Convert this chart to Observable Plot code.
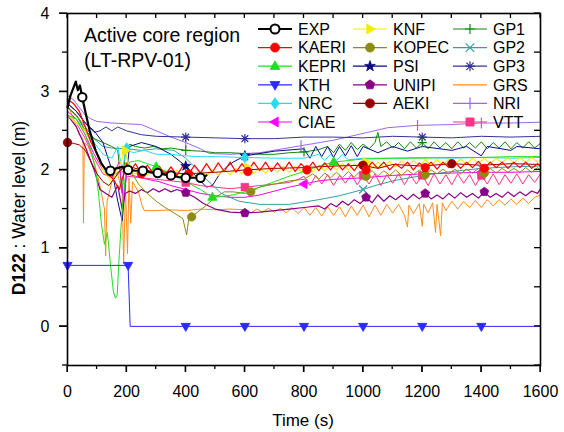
<!DOCTYPE html>
<html><head><meta charset="utf-8">
<script src="https://cdn.jsdelivr.net/npm/d3@7"></script>
<script src="https://cdn.jsdelivr.net/npm/@observablehq/plot@0.6"></script>
<style>
body{margin:0;background:#fff;}
#chart{width:564px;height:432px;}
</style></head><body><div id="chart"></div>
<script>
// ---------------- data (time s, water level m) ----------------
const EXP = [[0,2.8],[10,2.95],[20,3.05],[28,3.13],[35,3.02],[42,3.08],[50,2.93],[60,2.75],[75,2.5],[95,2.25],[115,2.08],[130,2.0],[145,1.99],[165,2.02],[185,2.04],[205,2.0],[230,1.99],[255,1.99],[280,1.97],[305,1.96],[330,1.94],[350,1.93],[375,1.91],[400,1.9],[425,1.9],[450,1.9],[470,1.93]];
const EXP_marks = [50,145,205,255,305,350,400,450];

const KAERI = [[0,2.9],[20,2.85],[40,2.75],[60,2.55],[80,2.35],[100,2.2],[120,2.05],[140,1.95],[160,1.85],[175,1.75],[190,1.95],[200,2.08],[210,1.98],[230,2.08],[250,1.95],[270,2.06],[290,1.96],[310,2.05],[330,1.94],[350,2.04],[370,1.93],[390,2.05],[410,1.95],[430,2.06],[450,1.96],[470,2.08],[490,1.97],[510,2.09],[530,1.98],[550,2.1],[570,1.97],[590,2.08],[610,1.98],[630,2.1],[650,1.99],[670,2.1],[690,1.98],[710,2.09],[730,1.99],[750,2.1],[770,1.98],[790,2.08],[810,2.0],[830,2.1],[850,1.99],[870,2.09],[890,2.0],[910,2.1],[930,2.0],[950,2.08],[970,1.99],[990,2.1],[1010,2.0],[1030,2.1],[1050,2.02],[1070,2.1],[1090,2.0],[1110,2.08],[1130,2.02],[1150,2.1],[1170,2.0],[1190,2.09],[1210,2.03],[1230,2.1],[1250,2.01],[1270,2.1],[1290,2.03],[1310,2.1],[1330,2.02],[1350,2.1],[1370,2.03],[1390,2.11],[1410,2.02],[1430,2.1],[1450,2.03],[1470,2.1],[1490,2.02],[1510,2.1],[1530,2.03],[1550,2.1],[1570,2.02],[1590,2.08],[1600,2.05]];
const KAERI_marks = [250,410,610,810,1010,1210,1410];

const KEPRI = [[0,2.7],[30,2.65],[60,2.45],[80,2.25],[95,2.0],[105,1.7],[115,1.3],[125,1.05],[135,1.2],[145,0.8],[155,0.45],[162,0.36],[168,0.4],[175,0.9],[185,1.5],[195,1.9],[210,2.1],[240,2.12],[270,2.08],[300,2.04],[350,1.95],[400,1.85],[450,1.75],[490,1.65],[520,1.66],[560,1.68],[600,1.72],[650,1.78],[700,1.85],[750,1.92],[800,1.98],[850,2.05],[900,2.1],[950,2.12],[1000,2.14],[1100,2.15],[1200,2.15],[1300,2.16],[1400,2.16],[1500,2.17],[1600,2.17]];
const KEPRI_marks = [300,490,900];

const KTH = [[0,0.78],[205,0.78],[212,0],[400,0],[600,0],[800,0],[1000,0],[1200,0],[1400,0],[1600,0]];
const KTH_marks = [0,205,400,600,800,1000,1200,1400];

const NRC = [[0,2.7],[30,2.65],[60,2.5],[90,2.35],[120,2.2],[150,2.15],[170,2.3],[185,2.0],[200,2.28],[220,2.22],[260,2.25],[300,2.2],[350,2.2],[400,2.18],[450,2.17],[500,2.17],[600,2.16],[700,2.15],[800,2.15],[850,2.2],[870,2.12],[890,2.2],[910,2.12],[930,2.2],[950,2.13],[1000,2.15],[1100,2.15],[1200,2.16],[1300,2.15],[1400,2.16],[1500,2.15],[1600,2.16]];
const NRC_marks = [200,600];

const CIAE = [[0,2.75],[30,2.65],[60,2.45],[90,2.2],[120,2.0],[150,1.9],[175,2.1],[190,1.6],[200,1.95],[230,1.92],[270,1.88],[310,1.85],[350,1.8],[400,1.75],[450,1.7],[500,1.67],[550,1.65],[600,1.65],[650,1.68],[700,1.73],[750,1.78],[800,1.82],[850,1.86],[900,1.88],[1000,1.9],[1100,1.93],[1200,1.95],[1300,1.96],[1400,1.97],[1500,1.97],[1600,1.98]];
const CIAE_marks = [800,1400];

const KNF = [[0,2.7],[30,2.6],[60,2.5],[90,2.3],[120,2.0],[150,1.85],[180,2.1],[195,2.25],[210,2.0],[230,1.95],[250,2.03],[270,1.93],[290,2.02],[310,1.92],[330,2.0],[350,1.9],[370,2.0],[390,1.9],[410,1.98],[430,1.9],[450,1.98],[470,1.92],[490,2.0],[510,1.93],[530,2.01],[550,1.94],[570,2.02],[590,1.95],[610,2.03],[630,1.95],[650,2.03],[670,1.96],[690,2.04],[710,1.97],[730,2.05],[750,1.97],[770,2.05],[790,1.98],[810,2.06],[830,1.98],[850,2.06],[870,1.99],[890,2.07],[910,2.0],[930,2.08],[950,2.0],[970,2.08],[990,2.02],[1010,2.1],[1030,2.02],[1050,2.1],[1070,2.03],[1090,2.11],[1110,2.04],[1130,2.12],[1150,2.05],[1170,2.12],[1190,2.05],[1210,2.13],[1230,2.06],[1250,2.13],[1270,2.06],[1290,2.14],[1310,2.07],[1330,2.14],[1350,2.07],[1370,2.15],[1390,2.08],[1410,2.15],[1430,2.08],[1450,2.15],[1470,2.09],[1490,2.16],[1510,2.09],[1530,2.16],[1550,2.1],[1570,2.16],[1590,2.1],[1600,2.13]];
const KNF_marks = [195,610,1010];

const KOPEC = [[0,2.8],[40,2.65],[80,2.35],[120,2.05],[150,1.9],[180,2.0],[200,2.1],[220,1.95],[240,1.82],[270,1.7],[300,1.6],[330,1.52],[360,1.45],[390,1.38],[403,1.17],[410,1.37],[420,1.4],[470,1.55],[500,1.65],[530,1.72],[560,1.72],[600,1.7],[620,1.72],[650,1.78],[700,1.82],[750,1.86],[800,1.88],[830,1.95],[850,1.88],[870,1.96],[890,1.9],[910,1.97],[930,1.9],[950,1.98],[970,1.91],[990,1.98],[1010,1.92],[1030,1.99],[1050,1.92],[1070,1.99],[1090,1.93],[1110,2.0],[1130,1.93],[1150,2.0],[1170,1.94],[1190,2.0],[1210,1.94],[1230,2.0],[1250,1.95],[1270,2.01],[1290,1.95],[1310,2.01],[1330,1.95],[1350,2.01],[1370,1.96],[1390,2.02],[1410,1.96],[1430,2.02],[1450,1.96],[1470,2.02],[1490,1.97],[1510,2.02],[1530,1.97],[1550,2.03],[1570,1.97],[1590,2.03],[1600,2.0]];
const KOPEC_marks = [420,620,1010,1210,1410];

const PSI = [[0,2.85],[30,2.75],[60,2.6],[90,2.5],[120,2.35],[150,2.0],[170,1.6],[185,1.35],[195,1.8],[210,2.3],[250,2.35],[300,2.3],[350,2.2],[400,2.05],[440,1.9],[470,1.78],[490,1.8],[520,1.98],[560,2.1],[600,2.18],[700,2.24],[800,2.27],[820,2.15],[840,2.3],[860,2.17],[880,2.3],[900,2.16],[920,2.3],[940,2.18],[960,2.31],[980,2.17],[1000,2.3],[1050,2.22],[1100,2.3],[1150,2.24],[1200,2.3],[1300,2.25],[1350,2.3],[1400,2.18],[1420,2.3],[1500,2.25],[1520,2.3],[1600,2.27]];
const PSI_marks = [400,600];

const UNIPI = [[0,2.7],[30,2.55],[60,2.3],[90,2.0],[110,1.75],[130,1.7],[150,1.65],[170,1.8],[185,1.5],[195,1.7],[210,1.73],[230,1.7],[250,1.75],[270,1.71],[290,1.76],[310,1.72],[330,1.76],[350,1.72],[370,1.75],[400,1.71],[430,1.65],[460,1.57],[500,1.5],[550,1.46],[600,1.45],[650,1.46],[700,1.48],[750,1.5],[800,1.52],[850,1.54],[870,1.5],[890,1.57],[910,1.53],[930,1.6],[950,1.55],[970,1.62],[990,1.57],[1010,1.65],[1030,1.58],[1050,1.68],[1070,1.6],[1090,1.67],[1110,1.62],[1130,1.68],[1150,1.62],[1170,1.69],[1190,1.63],[1210,1.7],[1230,1.63],[1250,1.68],[1270,1.63],[1290,1.7],[1310,1.64],[1330,1.71],[1350,1.65],[1370,1.7],[1390,1.64],[1410,1.72],[1430,1.65],[1450,1.7],[1470,1.65],[1490,1.72],[1510,1.66],[1530,1.72],[1550,1.67],[1570,1.73],[1590,1.7],[1600,1.76]];
const UNIPI_marks = [400,600,1010,1210,1410];

const AEKI = [[0,2.35],[20,2.34],[40,2.32],[60,2.25],[80,2.1],[100,1.95],[120,1.85],[140,1.8],[160,1.9],[180,2.0],[200,2.05],[250,2.0],[300,1.98],[400,1.95],[500,1.97],[600,2.0],[700,2.02],[800,2.03],[900,2.05],[1000,2.06],[1050,2.02],[1100,2.07],[1200,2.05],[1300,2.08],[1400,2.06],[1500,2.08],[1600,2.07]];
const AEKI_marks = [0,1000,1300];

const GP1 = [[0,2.8],[30,2.7],[60,2.5],[90,2.4],[120,2.35],[150,2.3],[170,2.25],[185,1.7],[195,2.2],[210,2.33],[230,2.3],[260,2.28],[290,2.3],[320,2.27],[350,2.28],[400,2.25],[450,2.24],[500,2.22],[550,2.22],[600,2.21],[650,2.2],[700,2.2],[750,2.22],[800,2.23],[850,2.26],[880,2.3],[900,2.22],[920,2.33],[940,2.25],[960,2.35],[980,2.26],[1000,2.33],[1020,2.27],[1040,2.35],[1050,2.48],[1060,2.3],[1080,2.36],[1100,2.28],[1120,2.35],[1140,2.27],[1160,2.36],[1180,2.28],[1200,2.35],[1220,2.27],[1240,2.36],[1260,2.28],[1280,2.35],[1300,2.27],[1320,2.36],[1340,2.28],[1360,2.35],[1380,2.28],[1400,2.36],[1420,2.27],[1440,2.35],[1460,2.28],[1480,2.36],[1500,2.27],[1520,2.35],[1540,2.28],[1560,2.36],[1580,2.28],[1600,2.34]];
const GP1_marks = [400,800,1200];

const GP2 = [[0,2.8],[30,2.7],[60,2.55],[90,2.4],[120,2.3],[150,2.28],[200,2.27],[250,2.25],[300,2.27],[360,2.25],[400,2.15],[440,2.0],[470,1.88],[520,1.7],[580,1.6],[650,1.56],[750,1.56],[850,1.62],[920,1.67],[1000,1.75],[1040,1.8],[1100,1.86],[1200,1.93],[1300,1.98],[1400,2.02],[1500,2.04],[1600,2.05]];
const GP2_marks = [1000,1400];

const GP3 = [[0,2.85],[30,2.75],[60,2.6],[90,2.48],[110,2.5],[130,2.55],[150,2.5],[170,2.55],[200,2.5],[250,2.45],[300,2.43],[400,2.42],[500,2.41],[600,2.4],[700,2.4],[800,2.42],[900,2.42],[1000,2.41],[1100,2.43],[1200,2.42],[1300,2.41],[1400,2.43],[1500,2.42],[1600,2.43]];
const GP3_marks = [400,600,1200];

const GRS = [[0,2.85],[20,2.65],[40,2.45],[52,2.4],[54,1.32],[57,2.35],[70,2.3],[90,2.1],[110,1.8],[125,1.5],[129,0.9],[134,1.6],[150,1.85],[170,1.95],[185,1.7],[190,0.8],[196,1.8],[203,0.93],[208,1.9],[214,1.32],[220,1.85],[240,1.72],[252,1.55],[260,1.48],[300,1.48],[350,1.49],[400,1.48],[450,1.5],[500,1.49],[550,1.5],[600,1.49],[620,1.45],[640,1.5],[660,1.46],[680,1.51],[700,1.46],[720,1.51],[740,1.45],[760,1.52],[780,1.44],[800,1.52],[820,1.42],[840,1.52],[860,1.41],[880,1.53],[900,1.42],[920,1.53],[940,1.4],[960,1.54],[980,1.42],[1000,1.55],[1020,1.4],[1040,1.55],[1060,1.42],[1080,1.56],[1100,1.45],[1120,1.56],[1140,1.42],[1150,1.27],[1155,1.55],[1170,1.44],[1190,1.57],[1200,1.28],[1205,1.56],[1220,1.45],[1235,1.58],[1245,1.2],[1250,1.56],[1262,1.16],[1268,1.58],[1280,1.48],[1300,1.6],[1320,1.5],[1340,1.6],[1360,1.52],[1380,1.61],[1400,1.52],[1420,1.62],[1440,1.54],[1460,1.62],[1480,1.55],[1500,1.63],[1520,1.56],[1540,1.64],[1560,1.57],[1580,1.65],[1600,1.68]];
const GRS_marks = [];

const NRI = [[0,2.95],[20,2.9],[40,2.8],[60,2.7],[80,2.65],[100,2.62],[150,2.6],[200,2.59],[250,2.58],[300,2.5],[350,2.42],[400,2.35],[450,2.27],[480,2.21],[550,2.2],[650,2.22],[790,2.31],[900,2.38],[1015,2.48],[1083,2.54],[1184,2.57],[1300,2.58],[1400,2.6],[1500,2.6],[1600,2.61]];
const NRI_marks = [400,790,1184,1400];

const VTT = [[0,2.7],[30,2.6],[60,2.4],[90,2.15],[120,1.95],[150,1.9],[180,2.0],[200,1.92],[250,1.9],[300,1.88],[350,1.86],[400,1.84],[450,1.8],[500,1.78],[550,1.76],[600,1.78],[650,1.8],[700,1.82],[750,1.84],[780,1.88],[800,1.92],[820,1.8],[840,1.93],[860,1.82],[880,1.94],[900,1.8],[920,1.93],[940,1.83],[960,1.94],[980,1.81],[1000,1.93],[1020,1.82],[1040,1.95],[1060,1.8],[1080,1.94],[1100,1.83],[1120,1.95],[1140,1.81],[1160,1.94],[1180,1.82],[1200,1.93],[1220,1.8],[1240,1.95],[1260,1.82],[1280,1.94],[1300,1.81],[1320,1.95],[1340,1.83],[1360,1.94],[1380,1.8],[1400,1.93],[1420,1.82],[1440,1.95],[1460,1.81],[1480,1.94],[1500,1.83],[1520,1.95],[1540,1.82],[1560,1.94],[1580,1.84],[1600,1.95]];
const VTT_marks = [400,600,1000,1200,1400];

const xMajor = [0,200,400,600,800,1000,1200,1400,1600];
const xMinor = [100,300,500,700,900,1100,1300,1500];
const yMajor = [0,1,2,3,4];
const yMinor = [-0.5,0.5,1.5,2.5,3.5];

// ---------------- symbols ----------------
function poly(pts){return {draw(ctx,size){const r=Math.sqrt(size/Math.PI);pts.forEach(([x,y],i)=>i?ctx.lineTo(x*r,y*r):ctx.moveTo(x*r,y*r));ctx.closePath();}};}
function strokes(segs){return {draw(ctx,size){const r=Math.sqrt(size/Math.PI);for(const [a,b,c,d] of segs){ctx.moveTo(a*r,b*r);ctx.lineTo(c*r,d*r);}}};}
function starPts(){const p=[];for(let i=0;i<10;i++){const a=-Math.PI/2+i*Math.PI/5,rr=i%2?0.5:1.25;p.push([rr*Math.cos(a),rr*Math.sin(a)]);}return p;}
const S = {
  circle: d3.symbolCircle,
  star: poly(starPts()),
  triUp: poly([[0,-1.2],[1.1,0.72],[-1.1,0.72]]),
  triDown: poly([[0,1.2],[1.1,-0.72],[-1.1,-0.72]]),
  triLeft: poly([[-1.2,0],[0.72,-1.1],[0.72,1.1]]),
  triRight: poly([[1.2,0],[-0.72,-1.1],[-0.72,1.1]]),
  pentagon: poly([0,1,2,3,4].map(i=>{const a=-Math.PI/2+i*2*Math.PI/5;return [1.1*Math.cos(a),1.1*Math.sin(a)];})),
  diamond: poly([[0,-1.25],[0.9,0],[0,1.25],[-0.9,0]]),
  square: poly([[-0.9,-0.9],[0.9,-0.9],[0.9,0.9],[-0.9,0.9]]),
  vbar: strokes([[0,-1.3,0,1.3]]),
  plus: strokes([[-1.1,0,1.1,0],[0,-1.1,0,1.1]]),
  times: strokes([[-0.95,-0.95,0.95,0.95],[-0.95,0.95,0.95,-0.95]]),
  asterisk: strokes([[-1.1,0,1.1,0],[-0.8,-0.8,0.8,0.8],[-0.8,0.8,0.8,-0.8],[0,-1.1,0,1.1]])
};

const series = [
  {name:"EXP",   data:EXP,   marks:EXP_marks,   color:"#000000", sym:"circle",   fill:"#ffffff", w:2.2, sw:2},
  {name:"KAERI", data:KAERI, marks:KAERI_marks, color:"#ff0000", sym:"circle",   fill:"c", w:1.2},
  {name:"KEPRI", data:KEPRI, marks:KEPRI_marks, color:"#22dd22", sym:"triUp",    fill:"c", w:1},
  {name:"KTH",   data:KTH,   marks:KTH_marks,   color:"#2a2aff", sym:"triDown",  fill:"c", w:1},
  {name:"NRC",   data:NRC,   marks:NRC_marks,   color:"#22ddee", sym:"diamond",  fill:"c", w:1},
  {name:"CIAE",  data:CIAE,  marks:CIAE_marks,  color:"#ff00ff", sym:"triLeft",  fill:"c", w:1},
  {name:"KNF",   data:KNF,   marks:KNF_marks,   color:"#f2ee00", sym:"triRight", fill:"c", w:1.1},
  {name:"KOPEC", data:KOPEC, marks:KOPEC_marks, color:"#8c8c10", sym:"circle",   fill:"c", w:1},
  {name:"PSI",   data:PSI,   marks:PSI_marks,   color:"#0a0a80", sym:"star",     fill:"c", w:1},
  {name:"UNIPI", data:UNIPI, marks:UNIPI_marks, color:"#880088", sym:"pentagon", fill:"c", w:1.2},
  {name:"AEKI",  data:AEKI,  marks:AEKI_marks,  color:"#990000", sym:"circle",   fill:"c", w:1},
  {name:"GP1",   data:GP1,   marks:GP1_marks,   color:"#118811", sym:"plus",     fill:"none", w:1},
  {name:"GP2",   data:GP2,   marks:GP2_marks,   color:"#33a0a0", sym:"times",    fill:"none", w:1},
  {name:"GP3",   data:GP3,   marks:GP3_marks,   color:"#333399", sym:"asterisk", fill:"none", w:1},
  {name:"GRS",   data:GRS,   marks:GRS_marks,   color:"#ff8c1a", sym:null,       fill:"none", w:1},
  {name:"NRI",   data:NRI,   marks:NRI_marks,   color:"#a066ee", sym:"vbar",     fill:"none", w:1},
  {name:"VTT",   data:VTT,   marks:VTT_marks,   color:"#ff3388", sym:"square",   fill:"c", w:1}
];

const drawOrder = ["GRS","NRI","GP3","GP2","GP1","PSI","NRC","CIAE","VTT","UNIPI","KOPEC","KNF","KEPRI","AEKI","KAERI","KTH","EXP"];

const marks = [];
for (const nm of drawOrder) {
  const s = series.find(d => d.name === nm);
  marks.push(Plot.line(s.data, {x: d => d[0], y: d => d[1], stroke: s.color, strokeWidth: s.w, strokeLinejoin: "round"}));
}
for (const nm of drawOrder) {
  const s = series.find(d => d.name === nm);
  if (!s.sym) continue;
  const pts = s.data.filter(d => s.marks.includes(d[0]));
  const filled = s.fill === "c";
  marks.push(Plot.dot(pts, {x: d => d[0], y: d => d[1], symbol: S[s.sym], r: 4.2,
    fill: filled ? s.color : s.fill, stroke: s.color, strokeWidth: s.sw || (filled ? 0.8 : 1.2)}));
}

marks.push(
  Plot.axisX({anchor:"bottom", ticks: xMajor, tickSize: 7, tickPadding: 13, tickFormat: d => String(d), label: null, fontSize: 16}),
  Plot.axisY({anchor:"left", ticks: yMajor, tickSize: 8, tickPadding: 10, tickFormat: d => String(d), label: null, fontSize: 16}),
  Plot.frame({stroke: "#000", strokeWidth: 1.6})
);

const plot = Plot.plot({
  width: 564, height: 432,
  marginLeft: 67, marginRight: 24, marginTop: 13, marginBottom: 67,
  style: {fontFamily: "Liberation Sans, Arial, sans-serif", color: "#000", background: "#fff"},
  x: {domain: [0, 1600]},
  y: {domain: [-0.5, 4]},
  marks
});
document.getElementById("chart").appendChild(plot);

// ---------------- ticks on all four sides, positioned by the plot's scales ----------------
const svg = d3.select(plot);
const xs = plot.scale("x"), ys = plot.scale("y");
const fx = d3.scaleLinear(xs.domain, xs.range);
const fy = d3.scaleLinear(ys.domain, ys.range);
const [xL, xR] = xs.range, yB = fy(-0.5), yT = fy(4);
const tg = svg.append("g").attr("stroke", "#000").attr("stroke-width", 1.3);
const tick = (x1, y1, x2, y2) => tg.append("line").attr("x1", x1).attr("y1", y1).attr("x2", x2).attr("y2", y2);
xMajor.forEach(v => { tick(fx(v), yB, fx(v), yB + 7); tick(fx(v), yT, fx(v), yT + 5); });
xMinor.forEach(v => { tick(fx(v), yB, fx(v), yB + 4); tick(fx(v), yT, fx(v), yT + 5); });
yMajor.forEach(v => { tick(xL - 8, fy(v), xL, fy(v)); tick(xR - 6, fy(v), xR, fy(v)); });
yMinor.forEach(v => { tick(xL - 5, fy(v), xL, fy(v)); tick(xR - 6, fy(v), xR, fy(v)); });

// ---------------- annotations and legend ----------------
const ff = "Liberation Sans, Arial, sans-serif";
const yl = svg.append("text").attr("transform","translate(25,208) rotate(-90)").attr("text-anchor","middle")
  .attr("font-size",17.5).attr("font-family",ff).attr("fill","#000");
yl.append("tspan").attr("font-weight","bold").text("D122");
yl.append("tspan").text(" : Water level (m)");
svg.append("text").attr("x",303).attr("y",426).attr("text-anchor","middle").attr("font-size",17)
  .attr("font-family",ff).attr("fill","#000").text("Time (s)");
svg.append("text").attr("x",84).attr("y",42).attr("text-anchor","start").attr("font-size",19.5).attr("font-family",ff).attr("fill","#000").text("Active core region");
svg.append("text").attr("x",84).attr("y",67).attr("text-anchor","start").attr("font-size",19.5).attr("font-family",ff).attr("fill","#000").text("(LT-RPV-01)");

const legendCols = [["EXP","KAERI","KEPRI","KTH","NRC","CIAE"],["KNF","KOPEC","PSI","UNIPI","AEKI"],["GP1","GP2","GP3","GRS","NRI","VTT"]];
const colX = [258, 353, 453];
const lg = svg.append("g");
legendCols.forEach((col, ci) => {
  col.forEach((nm, ri) => {
    const s = series.find(d => d.name === nm);
    const x0 = colX[ci], y = 29 + ri * 18.6;
    lg.append("line").attr("x1", x0).attr("x2", x0 + 34).attr("y1", y).attr("y2", y)
      .attr("stroke", s.color).attr("stroke-width", nm === "EXP" ? 2.2 : 1.2);
    if (s.sym) {
      const filled = s.fill === "c";
      lg.append("path").attr("d", d3.symbol(S[s.sym], Math.PI * 4.5 * 4.5)())
        .attr("transform", `translate(${x0 + 17},${y})`)
        .attr("fill", filled ? s.color : s.fill).attr("stroke", s.color)
        .attr("stroke-width", s.sw || (filled ? 0.8 : 1.2));
    }
    lg.append("text").attr("x", x0 + 40).attr("y", y).attr("dy", "0.36em").attr("text-anchor", "start")
      .attr("font-size", 16).attr("font-family", ff).attr("fill", "#000").text(nm);
  });
});
</script></body></html>
